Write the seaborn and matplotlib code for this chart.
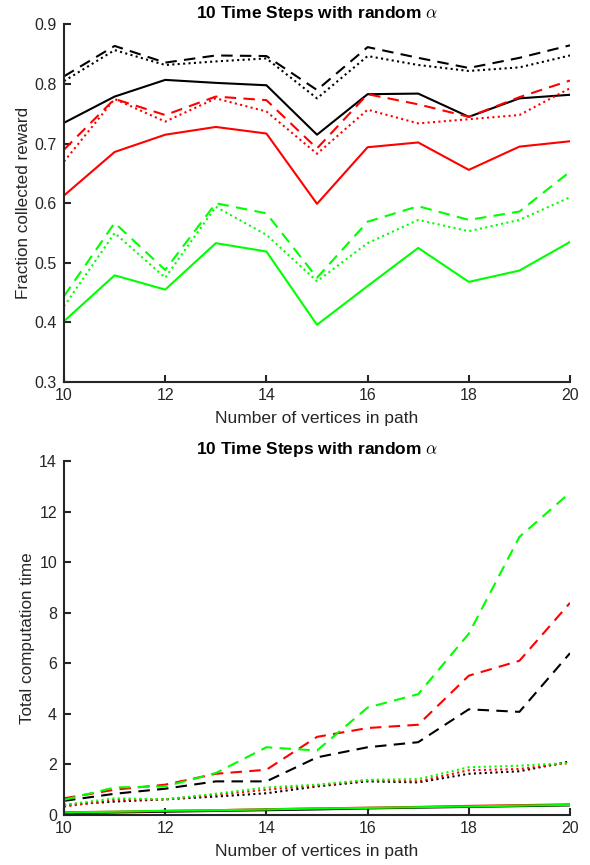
import numpy as np
import pandas as pd
import matplotlib
matplotlib.use("Agg")
import matplotlib.pyplot as plt
import seaborn as sns

# number of vertices in path
n_vertices = [10, 11, 12, 13, 14, 15, 16, 17, 18, 19, 20]

# fraction of collected reward (top panel)
reward_black_solid = [0.735, 0.779, 0.807, 0.802, 0.798, 0.715, 0.783, 0.784, 0.745, 0.776, 0.782]
reward_black_dashed = [0.813, 0.864, 0.836, 0.848, 0.847, 0.790, 0.862, 0.844, 0.827, 0.844, 0.865]
reward_black_dotted = [0.805, 0.857, 0.832, 0.838, 0.843, 0.776, 0.847, 0.832, 0.822, 0.828, 0.848]
reward_red_solid = [0.613, 0.686, 0.715, 0.728, 0.717, 0.599, 0.694, 0.702, 0.656, 0.695, 0.704]
reward_red_dashed = [0.690, 0.775, 0.748, 0.779, 0.773, 0.692, 0.783, 0.766, 0.745, 0.778, 0.806]
reward_red_dotted = [0.670, 0.775, 0.737, 0.776, 0.754, 0.683, 0.757, 0.734, 0.741, 0.748, 0.793]
reward_green_solid = [0.402, 0.479, 0.455, 0.533, 0.519, 0.396, 0.461, 0.525, 0.468, 0.487, 0.535]
reward_green_dashed = [0.444, 0.567, 0.488, 0.600, 0.583, 0.475, 0.569, 0.595, 0.572, 0.586, 0.653]
reward_green_dotted = [0.427, 0.550, 0.475, 0.594, 0.547, 0.469, 0.533, 0.572, 0.553, 0.572, 0.610]

# total computation time (bottom panel)
time_black_solid = [0.07, 0.10, 0.13, 0.16, 0.19, 0.22, 0.26, 0.29, 0.32, 0.35, 0.38]
time_black_dashed = [0.56, 0.84, 1.04, 1.33, 1.33, 2.28, 2.68, 2.88, 4.18, 4.08, 6.40]
time_black_dotted = [0.40, 0.53, 0.62, 0.73, 0.86, 1.13, 1.33, 1.29, 1.63, 1.73, 2.12]
time_red_solid = [0.11, 0.13, 0.16, 0.19, 0.23, 0.26, 0.29, 0.32, 0.36, 0.39, 0.42]
time_red_dashed = [0.66, 1.00, 1.20, 1.63, 1.79, 3.09, 3.44, 3.57, 5.51, 6.10, 8.39]
time_red_dotted = [0.33, 0.60, 0.62, 0.80, 1.00, 1.17, 1.37, 1.33, 1.77, 1.82, 2.06]
time_green_solid = [0.10, 0.13, 0.17, 0.19, 0.22, 0.26, 0.28, 0.31, 0.34, 0.37, 0.40]
time_green_dashed = [0.60, 1.09, 1.13, 1.66, 2.68, 2.55, 4.25, 4.78, 7.17, 11.0, 12.75]
time_green_dotted = [0.40, 0.66, 0.62, 0.84, 1.09, 1.20, 1.39, 1.42, 1.89, 1.95, 2.06]

title_text = "10 Time Steps with random $\\alpha$"

sns.set_style("ticks")
plt.rcParams["font.family"] = ["Liberation Sans", "DejaVu Sans"]
plt.rcParams["mathtext.fontset"] = "cm"

axis_color = (0.15, 0.15, 0.15)
styles = {
    "solid": None,
    "dashed": (5.5, 3.5),
    "dotted": (1.0, 1.6),
}

top_series = [
    ("black", "solid", reward_black_solid),
    ("black", "dashed", reward_black_dashed),
    ("black", "dotted", reward_black_dotted),
    ("red", "solid", reward_red_solid),
    ("red", "dashed", reward_red_dashed),
    ("red", "dotted", reward_red_dotted),
    ("#00ff00", "solid", reward_green_solid),
    ("#00ff00", "dashed", reward_green_dashed),
    ("#00ff00", "dotted", reward_green_dotted),
]
bottom_series = [
    ("black", "solid", time_black_solid),
    ("black", "dashed", time_black_dashed),
    ("black", "dotted", time_black_dotted),
    ("red", "solid", time_red_solid),
    ("red", "dashed", time_red_dashed),
    ("red", "dotted", time_red_dotted),
    ("#00ff00", "solid", time_green_solid),
    ("#00ff00", "dashed", time_green_dashed),
    ("#00ff00", "dotted", time_green_dotted),
]


def draw_panel(ax, series, ylabel, yticks, ylim):
    for color, style, values in series:
        df = pd.DataFrame({"n": n_vertices, "v": values})
        sns.lineplot(data=df, x="n", y="v", ax=ax, color=color,
                     linewidth=1.5, legend=False)
        dash = styles[style]
        ln = ax.lines[-1]
        if dash is None:
            ln.set_linestyle("-")
        else:
            ln.set_dashes(dash)
    ax.set_xlim(10, 20)
    ax.set_ylim(*ylim)
    ax.set_xticks([10, 12, 14, 16, 18, 20])
    ax.set_yticks(yticks)
    ax.set_title(title_text, fontsize=12.5, fontweight="bold", pad=5,
                 color="black")
    ax.set_xlabel("Number of vertices in path", fontsize=12.5, color=axis_color,
                  labelpad=6)
    ax.set_ylabel(ylabel, fontsize=12.3, color=axis_color, labelpad=3)
    sns.despine(ax=ax)
    for side in ["left", "bottom"]:
        ax.spines[side].set_linewidth(1.5)
        ax.spines[side].set_color(axis_color)
    ax.tick_params(direction="in", length=5, width=1.5, colors=axis_color,
                   labelsize=11.5, labelcolor=axis_color)
    ax.tick_params(axis="x", pad=4)
    ax.tick_params(axis="y", pad=5)


fig = plt.figure(figsize=(5.9, 8.65), dpi=100)
ax1 = fig.add_axes([0.1085, 0.5584, 0.8576, 0.4133])
ax2 = fig.add_axes([0.1085, 0.0578, 0.8576, 0.4092])

draw_panel(ax1, top_series, "Fraction collected reward",
           [0.3, 0.4, 0.5, 0.6, 0.7, 0.8, 0.9], (0.3, 0.9))
ax1.set_yticklabels(["0.3", "0.4", "0.5", "0.6", "0.7", "0.8", "0.9"])
draw_panel(ax2, bottom_series, "Total computation time",
           [0, 2, 4, 6, 8, 10, 12, 14], (0, 14))

fig.savefig("out.png", dpi=100)
